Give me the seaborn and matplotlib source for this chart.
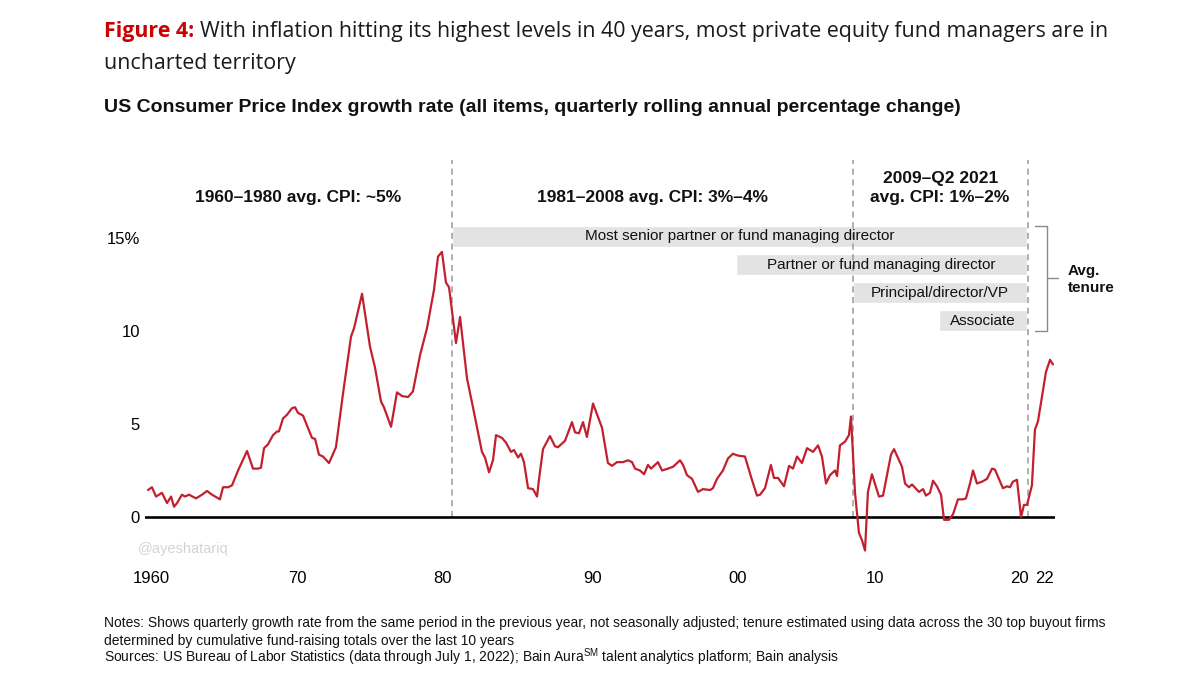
import numpy as np
import pandas as pd
import matplotlib.pyplot as plt
import seaborn as sns

# ------------------------------------------------------------
#  DATA - US CPI growth (% yoy)
# ------------------------------------------------------------
years = [1960.07, 1960.34, 1960.62, 1961.03, 1961.38, 1961.66, 1961.86, 1962.07,
         1962.41, 1962.62, 1962.90, 1963.38, 1963.79, 1964.14, 1964.48, 1965.03,
         1965.24, 1965.59, 1965.86, 1966.28, 1966.90, 1967.31, 1967.66, 1967.86,
         1968.07, 1968.34, 1968.69, 1968.97, 1969.10, 1969.38, 1969.66, 1970.00,
         1970.21, 1970.41, 1970.76, 1971.38, 1971.59, 1971.86, 1972.14, 1972.55,
         1973.03, 1973.52, 1974.07, 1974.28, 1974.83, 1975.38, 1975.72, 1976.14,
         1976.34, 1976.83, 1977.24, 1977.59, 1978.00, 1978.34, 1978.83, 1979.31,
         1979.79, 1980.07, 1980.34, 1980.62, 1980.83, 1981.31, 1981.59, 1982.07,
         1982.48, 1983.10, 1983.31, 1983.59, 1983.86, 1984.07, 1984.48, 1984.76,
         1985.10, 1985.31, 1985.59, 1985.79, 1986.00, 1986.28, 1986.62, 1986.90,
         1987.03, 1987.31, 1987.79, 1988.14, 1988.34, 1988.83, 1989.31, 1989.52,
         1989.79, 1990.07, 1990.34, 1990.76, 1991.38, 1991.79, 1992.07, 1992.41,
         1992.83, 1993.17, 1993.45, 1993.66, 1994.00, 1994.28, 1994.55, 1994.76,
         1995.24, 1995.52, 1995.93, 1996.28, 1996.76, 1996.97, 1997.24, 1997.59,
         1998.00, 1998.34, 1998.83, 1999.03, 1999.31, 1999.72, 2000.07, 2000.41,
         2000.76, 2001.24, 2001.72, 2002.07, 2002.28, 2002.62, 2003.03, 2003.24,
         2003.52, 2003.93, 2004.28, 2004.55, 2004.83, 2005.17, 2005.52, 2005.93,
         2006.28, 2006.55, 2006.83, 2007.10, 2007.45, 2007.59, 2007.79, 2008.14,
         2008.41, 2008.55, 2008.83, 2009.10, 2009.31, 2009.52, 2009.72, 2010.00,
         2010.48, 2010.76, 2010.97, 2011.31, 2011.52, 2012.07, 2012.28, 2012.55,
         2012.76, 2013.24, 2013.52, 2013.72, 2014.00, 2014.21, 2014.48, 2014.76,
         2014.97, 2015.31, 2015.59, 2015.93, 2016.28, 2016.48, 2016.76, 2016.97,
         2017.24, 2017.59, 2017.93, 2018.28, 2018.48, 2019.03, 2019.31, 2019.52,
         2019.72, 2020.00, 2020.28, 2020.48, 2020.69, 2021.03, 2021.24, 2021.45,
         2022.00, 2022.28, 2022.48]
cpi = [1.45, 1.6, 1.1, 1.3, 0.75, 1.1, 0.55, 0.75,
       1.2, 1.1, 1.2, 1.0, 1.2, 1.4, 1.2, 0.95,
       1.6, 1.6, 1.7, 2.5, 3.55, 2.6, 2.6, 2.65,
       3.7, 3.9, 4.4, 4.6, 4.6, 5.3, 5.5, 5.85,
       5.9, 5.6, 5.45, 4.25, 4.2, 3.35, 3.25, 2.9,
       3.75, 6.65, 9.7, 10.15, 12.0, 9.15, 8.05, 6.2,
       5.9, 4.85, 6.7, 6.5, 6.45, 6.75, 8.7, 10.15,
       12.2, 14.0, 14.25, 12.6, 12.35, 9.35, 10.75, 7.45,
       5.9, 3.5, 3.2, 2.4, 3.05, 4.4, 4.25, 4.0,
       3.5, 3.6, 3.2, 3.4, 2.95, 1.55, 1.5, 1.1,
       2.0, 3.65, 4.35, 3.8, 3.75, 4.1, 5.1, 4.55,
       4.5, 5.1, 4.3, 6.1, 4.8, 2.9, 2.75, 2.95,
       2.95, 3.05, 2.95, 2.6, 2.5, 2.3, 2.8, 2.6,
       2.95, 2.5, 2.6, 2.7, 3.05, 2.8, 2.25, 2.05,
       1.35, 1.5, 1.45, 1.55, 2.05, 2.5, 3.15, 3.4,
       3.3, 3.25, 2.0, 1.15, 1.2, 1.55, 2.8, 2.1,
       2.1, 1.65, 2.75, 2.6, 3.25, 2.9, 3.7, 3.5,
       3.85, 3.25, 1.8, 2.25, 2.5, 2.2, 3.85, 4.05,
       4.4, 5.4, 1.3, -0.85, -1.25, -1.8, 1.35, 2.3,
       1.1, 1.15, 2.0, 3.35, 3.65, 2.7, 1.8, 1.6,
       1.75, 1.35, 1.5, 1.15, 1.3, 1.95, 1.65, 1.2,
       -0.15, -0.15, 0.15, 0.95, 0.95, 1.0, 1.8, 2.5,
       1.8, 1.9, 2.05, 2.6, 2.55, 1.55, 1.65, 1.6,
       1.9, 2.0, 0.0, 0.65, 0.65, 1.7, 4.7, 5.15,
       7.8, 8.45, 8.2]

# period dividers and labels
period_breaks = [1981.0, 2008.7, 2020.75]
period_labels = ['1960–1980 avg. CPI: ~5%', '1981–2008 avg. CPI: 3%–4%',
                 '2009–Q2 2021\navg. CPI: 1%–2%']

# average tenure bars (start year -> end year)
tenure_roles = ['Most senior partner or fund managing director',
                'Partner or fund managing director',
                'Principal/director/VP', 'Associate']
tenure_start = [1981.0, 2000.6, 2008.7, 2014.6]
tenure_end = 2020.7
tenure_level = [15.1, 13.55, 12.05, 10.55]

xtick_labels = ['1960', '70', '80', '90', '00', '10', '20', '22']
xtick_pos = [1960.3, 1970.4, 1980.4, 1990.7, 2000.7, 2010.2, 2020.2, 2021.9]

df = pd.DataFrame({'year': years, 'cpi': cpi})

# ------------------------------------------------------------
#  PLOT
# ------------------------------------------------------------
sns.set_style('white')
plt.rcParams['font.family'] = ['Liberation Sans', 'DejaVu Sans']
plt.rcParams['mathtext.fontset'] = 'custom'
plt.rcParams['mathtext.rm'] = 'Liberation Sans'
plt.rcParams['mathtext.sf'] = 'Liberation Sans'

RED = '#c3202f'
fig = plt.figure(figsize=(12, 6.75), dpi=100)
ax = fig.add_axes([0.1207, 0.1624, 0.7582, 0.6036])

# tenure bars
for role, start, lvl in zip(tenure_roles, tenure_start, tenure_level):
    ax.barh(lvl, tenure_end - start, left=start, height=1.13,
            color='#e3e3e3', zorder=1)
    ax.text((start + tenure_end) / 2, lvl, role, ha='center', va='center',
            fontsize=11, color='#111111', zorder=2)

# dashed period dividers
for xb in period_breaks:
    ax.plot([xb, xb], [0, 19.2], ls=(0, (4, 3)), color='#9a9a9a', lw=1.1, zorder=1)

# period labels
ax.text(1970.4, 17.15, period_labels[0], ha='center', va='center',
        fontsize=12.5, fontweight='bold', color='#111111')
ax.text(1994.85, 17.15, period_labels[1], ha='center', va='center',
        fontsize=12.5, fontweight='bold', color='#111111')
ax.text(2014.7, 17.68, period_labels[2], ha='center', va='center',
        fontsize=12.5, fontweight='bold', linespacing=1.38, color='#111111')

# zero line + CPI line
ax.axhline(0, color='black', lw=1.9, zorder=2)
sns.lineplot(data=df, x='year', y='cpi', color=RED, linewidth=1.6, ax=ax, zorder=3)

# bracket for avg tenure
bc = '#8a8a8a'
ax.plot([2021.24, 2022.07, 2022.07, 2021.24], [15.65, 15.65, 10.0, 10.0],
        color=bc, lw=1, clip_on=False)
ax.plot([2022.07, 2022.83], [12.85, 12.85], color=bc, lw=1, clip_on=False)
ax.text(2023.5, 12.75, 'Avg.\ntenure', ha='left', va='center', fontsize=11,
        fontweight='bold', linespacing=1.3, clip_on=False, color='#111111')

ax.set_xlim(1959.85, 2022.6)
ax.set_ylim(-2.6, 19.3)
ax.set_yticks([0, 5, 10, 15])
ax.set_yticklabels(['0', '5', '10', '15%'])
ax.set_xticks(xtick_pos)
ax.set_xticklabels(xtick_labels)
ax.tick_params(axis='both', length=0, labelsize=12, colors='black')
ax.tick_params(axis='y', pad=3.5)
ax.tick_params(axis='x', pad=4)
ax.set_xlabel('')
ax.set_ylabel('')
for s in ax.spines.values():
    s.set_visible(False)

# watermark
fig.text(138 / 1200, 1 - 549 / 675, '@ayeshatariq', color='#d4d4d4',
         fontsize=10.5, va='center', ha='left')

# titles
t1 = fig.text(104 / 1200, 1 - 32 / 675, 'Figure 4:', color='#cc0000',
              fontsize=15.4, fontweight='bold', family='Open Sans', va='center')
fig.canvas.draw()
bb = t1.get_window_extent()
fig.text((bb.x1 + 6) / 1200, 1 - 32 / 675,
         'With inflation hitting its highest levels in 40 years, most private equity fund managers are in',
         color='#1a1a1a', fontsize=15.4, family='Open Sans', va='center')
fig.text(104 / 1200, 1 - 64 / 675, 'uncharted territory', color='#1a1a1a',
         fontsize=15.4, family='Open Sans', va='center')
fig.text(104 / 1200, 1 - 108 / 675,
         'US Consumer Price Index growth rate (all items, quarterly rolling annual percentage change)',
         fontsize=14, fontweight='bold', va='center', color='#111111')

# notes (baseline aligned so the superscript line sits level)
notes = ['Notes: Shows quarterly growth rate from the same period in the previous year, not seasonally adjusted; tenure estimated using data across the 30 top buyout firms',
         'determined by cumulative fund-raising totals over the last 10 years',
         r'Sources: US Bureau of Labor Statistics (data through July 1, 2022); Bain Aura$^{\mathsf{SM}}$ talent analytics platform; Bain analysis']
for i, line in enumerate(notes):
    fig.text(104 / 1200, 1 - (627.5 + 17.5 * i) / 675, line, fontsize=10,
             va='baseline', color='#111111')

plt.savefig('out.png', dpi=100)
